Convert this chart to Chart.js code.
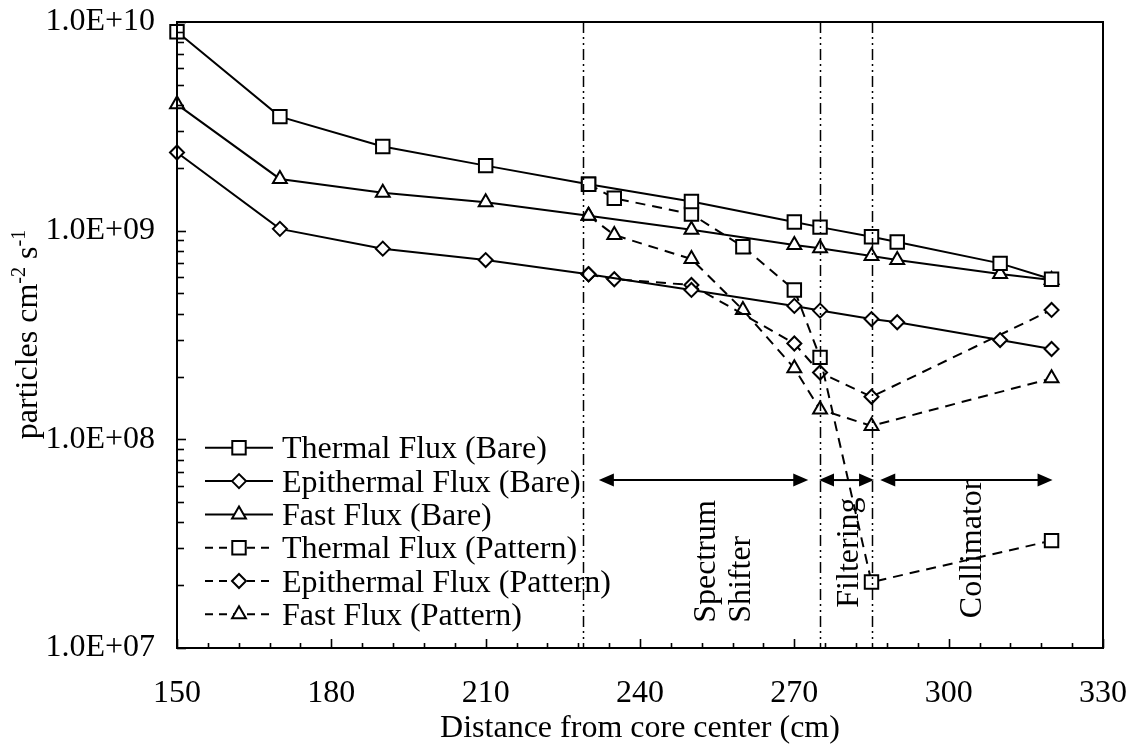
<!DOCTYPE html>
<html><head><meta charset="utf-8">
<script src="https://cdn.jsdelivr.net/npm/chart.js@4.4.0/dist/chart.umd.min.js"></script>
<style>html,body{margin:0;padding:0;background:#fff;overflow:hidden}</style>
</head><body>
<canvas id="c" width="1135" height="746"></canvas>
<script>
// ---------- DATA ----------
const xBare            = [150, 170, 190, 210, 230, 250, 270, 275, 285, 290, 310, 320];
const thermalBare      = [8.98e9, 3.52e9, 2.53e9, 2.05e9, 1.67e9, 1.38e9, 1.10e9, 1.04e9, 9.35e8, 8.83e8, 6.97e8, 5.85e8];
const epithermalBare   = [2.37e9, 1.02e9, 8.20e8, 7.23e8, 6.18e8, 5.20e8, 4.36e8, 4.14e8, 3.77e8, 3.64e8, 2.99e8, 2.71e8];
const fastBare         = [4.03e9, 1.77e9, 1.52e9, 1.37e9, 1.18e9, 1.01e9, 8.54e8, 8.23e8, 7.56e8, 7.23e8, 6.20e8, 5.80e8];

const xThermalPattern    = [230, 235, 250, 260, 270, 275, 285, 320];
const thermalPattern     = [1.67e9, 1.43e9, 1.20e9, 8.38e8, 5.20e8, 2.47e8, 2.07e7, 3.27e7];
const xEpithermalPattern = [230, 235, 250, 270, 275, 285, 320];
const epithermalPattern  = [6.18e8, 5.85e8, 5.49e8, 2.88e8, 2.09e8, 1.60e8, 4.17e8];
const xFastPattern       = [230, 235, 250, 260, 270, 275, 285, 320];
const fastPattern        = [1.18e9, 9.53e8, 7.31e8, 4.17e8, 2.19e8, 1.39e8, 1.16e8, 1.96e8];

const seriesLabels = ['Thermal Flux (Bare)', 'Epithermal Flux (Bare)', 'Fast Flux (Bare)',
                      'Thermal Flux (Pattern)', 'Epithermal Flux (Pattern)', 'Fast Flux (Pattern)'];

const xMajorTicks = [150, 180, 210, 240, 270, 300, 330];
const xMinorStep  = 6;
const yDecades    = [1e7, 1e8, 1e9, 1e10];
const yTickLabels = ['1.0E+07', '1.0E+08', '1.0E+09', '1.0E+10'];

const boundaryLines = [229, 275, 285];
const regionFrom    = [232, 274.8, 286.7];
const regionTo      = [272.7, 285.5, 320.2];
const regionText    = [['Spectrum', 'Shifter'], ['Filtering'], ['Collimator']];
const arrowLevel    = 6.38e7;

// ---------- STYLE / LAYOUT ----------
const FONT = "'Liberation Serif','Times New Roman',serif";
const regionTextX     = [254.6, 282.3, 306.2];   // baseline position (data x)
const regionTextStart = [1.32e7, 1.56e7, 1.39e7]; // start position (data y)

const xTickValues = [];
for (let v = xMajorTicks[0]; v <= xMajorTicks[xMajorTicks.length - 1]; v += xMinorStep) xTickValues.push(v);
const yTickValues = [];
for (let i = 0; i < yDecades.length - 1; i++) for (let m = 1; m <= 9; m++) yTickValues.push(m * yDecades[i]);
yTickValues.push(yDecades[yDecades.length - 1]);

function pts(xs, ys) { return xs.map((x, i) => ({x: x, y: ys[i]})); }

const styles = [
  {pointStyle: 'rect', radius: 9.5, dash: []},
  {pointStyle: 'rectRot', radius: 7, dash: []},
  {pointStyle: 'triangle', radius: 8, dash: []},
  {pointStyle: 'rect', radius: 9.5, dash: [10, 7]},
  {pointStyle: 'rectRot', radius: 7, dash: [10, 7]},
  {pointStyle: 'triangle', radius: 8, dash: [10, 7]}
];
const seriesData = [
  pts(xBare, thermalBare), pts(xBare, epithermalBare), pts(xBare, fastBare),
  pts(xThermalPattern, thermalPattern), pts(xEpithermalPattern, epithermalPattern), pts(xFastPattern, fastPattern)
];

const datasets = seriesData.map((d, i) => ({
  label: seriesLabels[i],
  data: d,
  borderColor: '#000',
  borderWidth: 2,
  borderDash: styles[i].dash,
  backgroundColor: '#fff',
  pointStyle: styles[i].pointStyle,
  pointRadius: styles[i].radius,
  pointBorderWidth: 2,
  pointBorderColor: '#000',
  pointBackgroundColor: '#fff',
  tension: 0,
  fill: false,
  clip: false
}));

// marker painter for the legend samples
function marker(ctx, style, r, x, y) {
  ctx.beginPath();
  if (style === 'rect') {
    const s = r * Math.SQRT1_2;
    ctx.rect(x - s, y - s, 2 * s, 2 * s);
  } else if (style === 'rectRot') {
    ctx.moveTo(x - r, y); ctx.lineTo(x, y - r); ctx.lineTo(x + r, y); ctx.lineTo(x, y + r); ctx.closePath();
  } else {
    ctx.moveTo(x, y - r);
    ctx.lineTo(x + r * Math.sin(Math.PI / 3), y + r / 2);
    ctx.lineTo(x - r * Math.sin(Math.PI / 3), y + r / 2);
    ctx.closePath();
  }
  ctx.fillStyle = '#fff'; ctx.fill();
  ctx.lineWidth = 2; ctx.strokeStyle = '#000'; ctx.stroke();
}

const framePlugin = {
  id: 'frame',
  afterDraw(chart) {
    const {ctx, chartArea: {left, right, top, bottom}, scales: {x, y}} = chart;
    ctx.save();
    ctx.strokeStyle = '#000'; ctx.setLineDash([]);
    ctx.lineWidth = 2;
    ctx.strokeRect(left, top, right - left, bottom - top);
    // inward tick marks
    x.ticks.forEach(t => {
      const px = Math.round(x.getPixelForValue(t.value)) + 0.5;
      const major = xMajorTicks.includes(t.value);
      ctx.lineWidth = 1.6;
      ctx.beginPath(); ctx.moveTo(px, bottom); ctx.lineTo(px, bottom - (major ? 9 : 5)); ctx.stroke();
    });
    y.ticks.forEach(t => {
      const py = Math.round(y.getPixelForValue(t.value)) + 0.5;
      const major = yDecades.includes(t.value);
      ctx.lineWidth = 1.6;
      ctx.beginPath(); ctx.moveTo(left, py); ctx.lineTo(left + (major ? 9 : 7), py); ctx.stroke();
    });
    // y axis title with superscripts
    const parts = [['particles cm', 32, 0], ['-2', 20, 12], [' s', 32, 0], ['-1', 20, 12]];
    let total = 0;
    parts.forEach(p => { ctx.font = p[1] + 'px ' + FONT; total += ctx.measureText(p[0]).width; });
    ctx.translate(37, 334.5 + total / 2);
    ctx.rotate(-Math.PI / 2);
    ctx.fillStyle = '#000'; ctx.textAlign = 'left'; ctx.textBaseline = 'alphabetic';
    let cx = 0;
    parts.forEach(p => {
      ctx.font = p[1] + 'px ' + FONT;
      ctx.fillText(p[0], cx, -p[2]);
      cx += ctx.measureText(p[0]).width;
    });
    ctx.restore();

    // legend
    ctx.save();
    const lx0 = 205, lx1 = 273, tx = 282, baseY = 458.3, step = 33.3;
    chart.data.datasets.forEach((ds, i) => {
      const by = baseY + i * step;
      const cy = by - 10.5;
      ctx.strokeStyle = '#000'; ctx.lineWidth = 2;
      ctx.setLineDash(ds.borderDash.length ? [8, 6] : []);
      ctx.beginPath(); ctx.moveTo(lx0, cy); ctx.lineTo(lx1, cy); ctx.stroke();
      ctx.setLineDash([]);
      marker(ctx, ds.pointStyle, ds.pointRadius, (lx0 + lx1) / 2, cy);
      ctx.fillStyle = '#000'; ctx.font = '32px ' + FONT; ctx.textAlign = 'left'; ctx.textBaseline = 'alphabetic';
      ctx.fillText(ds.label, tx, by);
    });
    ctx.restore();
  },
  afterDatasetsDraw(chart) {
    const {ctx, chartArea: {top, bottom}, scales: {x, y}} = chart;
    ctx.save();
    ctx.strokeStyle = '#000'; ctx.fillStyle = '#000';
    ctx.lineWidth = 1.5; ctx.setLineDash([11, 4, 2, 4, 2, 4]);
    boundaryLines.forEach(v => {
      const px = Math.round(x.getPixelForValue(v)) + 0.5;
      ctx.beginPath(); ctx.moveTo(px, top); ctx.lineTo(px, bottom); ctx.stroke();
    });
    ctx.setLineDash([]);
    const py = y.getPixelForValue(arrowLevel);
    const hl = 15, hw = 6.5;
    regionFrom.forEach((f, i) => {
      const x1 = x.getPixelForValue(f), x2 = x.getPixelForValue(regionTo[i]);
      ctx.lineWidth = 2;
      ctx.beginPath(); ctx.moveTo(x1 + hl - 2, py); ctx.lineTo(x2 - hl + 2, py); ctx.stroke();
      ctx.beginPath(); ctx.moveTo(x1, py); ctx.lineTo(x1 + hl, py - hw); ctx.lineTo(x1 + hl, py + hw); ctx.closePath(); ctx.fill();
      ctx.beginPath(); ctx.moveTo(x2, py); ctx.lineTo(x2 - hl, py - hw); ctx.lineTo(x2 - hl, py + hw); ctx.closePath(); ctx.fill();
      ctx.font = '32px ' + FONT; ctx.textAlign = 'left'; ctx.textBaseline = 'alphabetic';
      regionText[i].forEach((t, j) => {
        ctx.save();
        ctx.translate(x.getPixelForValue(regionTextX[i]) + j * 35, y.getPixelForValue(regionTextStart[i]));
        ctx.rotate(-Math.PI / 2);
        ctx.fillText(t, 0, 0);
        ctx.restore();
      });
    });
    ctx.restore();
  }
};

new Chart(document.getElementById('c'), {
  type: 'line',
  data: {datasets: datasets},
  options: {
    responsive: false,
    animation: false,
    devicePixelRatio: 1,
    layout: {padding: {left: 0, right: 32, top: 22, bottom: 0}},
    plugins: {legend: {display: false}, tooltip: {enabled: false}},
    scales: {
      x: {
        type: 'linear', min: 150, max: 330,
        afterFit(s) { s.height = 98; },
        afterBuildTicks(s) { s.ticks = xTickValues.map(v => ({value: v})); },
        ticks: {
          autoSkip: false, maxRotation: 0, minRotation: 0, padding: 0, color: '#000',
          font: {family: FONT, size: 32, lineHeight: 2.375},
          callback: (v) => xMajorTicks.includes(v) ? String(v) : ''
        },
        grid: {display: false}, border: {display: false},
        title: {display: true, text: 'Distance from core center (cm)', color: '#000',
                font: {family: FONT, size: 32, lineHeight: 1}, padding: {top: 0, bottom: 1}}
      },
      y: {
        type: 'logarithmic', min: 1e7, max: 1e10,
        afterFit(s) { s.width = 177; },
        afterBuildTicks(s) { s.ticks = yTickValues.map(v => ({value: v})); },
        ticks: {
          autoSkip: false, padding: 14, color: '#000',
          font: {family: FONT, size: 32, lineHeight: 0.5},
          callback: (v) => { const k = yDecades.indexOf(v); return k >= 0 ? yTickLabels[k] : ''; }
        },
        grid: {display: false}, border: {display: false}
      }
    }
  },
  plugins: [framePlugin]
});
</script>
</body></html>
